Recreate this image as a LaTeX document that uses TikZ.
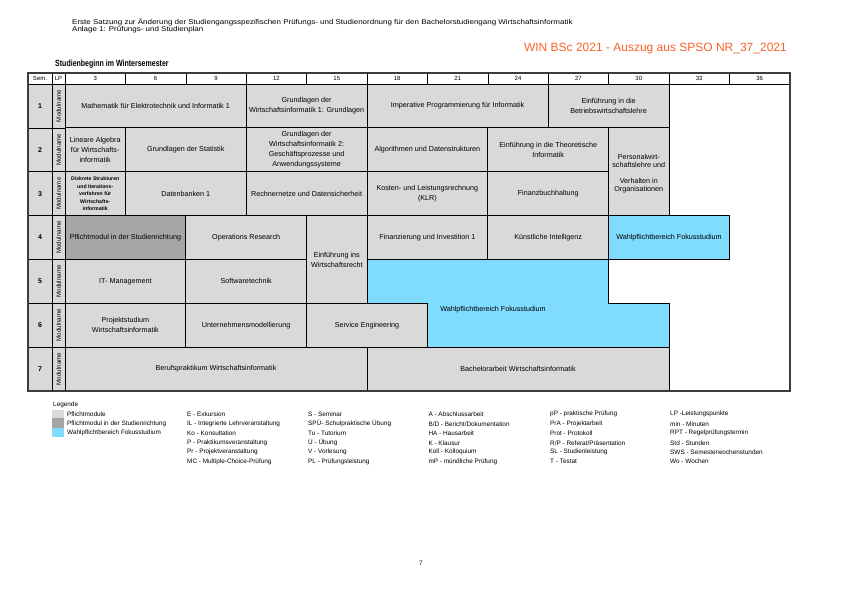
\documentclass[tikz,border=0pt]{standalone}
\usepackage{fontspec}
\setmainfont{Liberation Sans}
\definecolor{lgray}{RGB}{217,217,217}
\definecolor{dgray}{RGB}{166,166,166}
\definecolor{fblue}{RGB}{128,220,255}
\definecolor{ttlorange}{RGB}{250,100,40}
\definecolor{frame}{RGB}{60,60,60}
\tikzset{
  cell/.style={draw=black, line width=0.8pt},
  txt/.style={font=\fontsize{7.2}{10}\selectfont, align=center, inner sep=0pt},
  txtpers/.style={font=\fontsize{7.2}{8.3}\selectfont, yshift=-2pt},
  txtsmall/.style={font=\bfseries\fontsize{5.2}{7.5}\selectfont},
  hnum/.style={font=\fontsize{6}{7}\selectfont, inner sep=0pt},
  semnum/.style={font=\bfseries\fontsize{7}{8}\selectfont, inner sep=0pt},
  modn/.style={font=\fontsize{6.2}{7}\selectfont, inner sep=0pt, rotate=90},
  lgt/.style={font=\fontsize{6.4}{7}\selectfont, inner sep=0pt, anchor=west},
  sepline/.style={draw=black, line width=0.6pt},
  outer/.style={draw=frame, line width=1.2pt}
}
\newcommand\mkblock[8][]{%
  \draw[cell,fill=#7] ({65+60.4*#3},{84+43.86*#4}) rectangle ({65+60.4*#5},{84+43.86*#6});
  \node[txt,#1] (#2) at ({65+60.4*(#3+#5)/2},{84+43.86*(#4+#6)/2}) {#8};
}
\begin{document}
\begin{tikzpicture}[x=1pt,y=-1pt]
\useasboundingbox (0,0) rectangle (842,595);
\fill[white] (0,0) rectangle (842,595);

% page header
\node[anchor=base west, inner sep=0pt, font=\fontsize{7}{7}\selectfont] (hdr1) at (72,24.3)
  {\scalebox{1.14}[1]{Erste Satzung zur Änderung der Studiengangsspezifischen Prüfungs- und Studienordnung für den Bachelorstudiengang Wirtschaftsinformatik}};
\node[anchor=base west, inner sep=0pt, font=\fontsize{7}{7}\selectfont] (hdr2) at (72,31.6)
  {\scalebox{1.14}[1]{Anlage 1: Prüfungs- und Studienplan}};
\node[anchor=base east, inner sep=0pt, font=\fontsize{12}{14}\selectfont, text=ttlorange] (ttl) at (787,51)
  {WIN BSc 2021 - Auszug aus SPSO NR\_37\_2021};
\node[anchor=base west, inner sep=0pt, font=\bfseries\fontsize{9}{10}\selectfont] (sub) at (55,66.5)
  {\scalebox{0.78}[1]{Studienbeginn im Wintersemester}};

% left columns background
\fill[lgray] (28,84) rectangle (65,391);

% blocks
\mkblock{math}{0}{0}{3}{1}{lgray}{Mathematik für Elektrotechnik und Informatik 1}
\mkblock{gwi1}{3}{0}{5}{1}{lgray}{Grundlagen der\\Wirtschaftsinformatik 1: Grundlagen}
\mkblock{imp}{5}{0}{8}{1}{lgray}{Imperative Programmierung für Informatik}
\mkblock{bwl}{8}{0}{10}{1}{lgray}{Einführung in die\\Betriebswirtschaftslehre}

\mkblock{linalg}{0}{1}{1}{2}{lgray}{Lineare Algebra\\für Wirtschafts-\\informatik}
\mkblock{stat}{1}{1}{3}{2}{lgray}{Grundlagen der Statistik}
\mkblock{gwi2}{3}{1}{5}{2}{lgray}{Grundlagen der\\Wirtschaftsinformatik 2:\\Geschäftsprozesse und\\Anwendungssysteme}
\mkblock{algo}{5}{1}{7}{2}{lgray}{Algorithmen und Datenstrukturen}
\mkblock{thi}{7}{1}{9}{2}{lgray}{Einführung in die Theoretische\\Informatik}
\mkblock[txtpers]{pers}{9}{1}{10}{3}{lgray}{Personalwirt-\\schaftslehre und\\[7.7pt]Verhalten in\\Organisationen}

\mkblock[txtsmall]{diskr}{0}{2}{1}{3}{lgray}{Diskrete Strukturen\\und Iterations-\\verfahren für\\Wirtschafts-\\informatik}
\mkblock{db}{1}{2}{3}{3}{lgray}{Datenbanken 1}
\mkblock{rn}{3}{2}{5}{3}{lgray}{Rechnernetze und Datensicherheit}
\mkblock{klr}{5}{2}{7}{3}{lgray}{Kosten- und Leistungsrechnung\\(KLR)}
\mkblock{fibu}{7}{2}{9}{3}{lgray}{Finanzbuchhaltung}

\mkblock{pflicht}{0}{3}{2}{4}{dgray}{Pflichtmodul in der Studienrichtung}
\mkblock{opr}{2}{3}{4}{4}{lgray}{Operations Research}
\mkblock{recht}{4}{3}{5}{5}{lgray}{Einführung ins\\Wirtschaftsrecht}
\mkblock{fin}{5}{3}{7}{4}{lgray}{Finanzierung und Investition 1}
\mkblock{ki}{7}{3}{9}{4}{lgray}{Künstliche Intelligenz}
\mkblock{wpfa}{9}{3}{11}{4}{fblue}{Wahlpflichtbereich Fokusstudium}

\mkblock{itm}{0}{4}{2}{5}{lgray}{IT- Management}
\mkblock{swt}{2}{4}{4}{5}{lgray}{Softwaretechnik}

\mkblock{proj}{0}{5}{2}{6}{lgray}{Projektstudium\\Wirtschaftsinformatik}
\mkblock{um}{2}{5}{4}{6}{lgray}{Unternehmensmodellierung}
\mkblock{se}{4}{5}{6}{6}{lgray}{Service Engineering}

% large elective area
\draw[cell,fill=fblue] ({65+60.4*5},{84+43.86*4}) -- ({65+60.4*9},{84+43.86*4})
  -- ({65+60.4*9},{84+43.86*5}) -- ({65+60.4*10},{84+43.86*5})
  -- ({65+60.4*10},{84+43.86*6}) -- ({65+60.4*6},{84+43.86*6})
  -- ({65+60.4*6},{84+43.86*5}) -- ({65+60.4*5},{84+43.86*5}) -- cycle;
\node[txt] (wpfb) at (493,309.5) {Wahlpflichtbereich Fokusstudium};

\mkblock{bp}{0}{6}{5}{7}{lgray}{Berufspraktikum Wirtschaftsinformatik}
\mkblock{ba}{5}{6}{10}{7}{lgray}{Bachelorarbeit Wirtschaftsinformatik}

% header row
\node[hnum] (hsem) at (40,78.5) {Sem.};
\node[hnum] (hlp) at (58.5,78.5) {LP};
\foreach \n [count=\k] in {3,6,9,12,15,18,21,24,27,30,33,36}
  \node[hnum] (h\k) at ({65+60.4*(\k-0.5)},78.5) {\n};
\foreach \k in {1,...,11}
  \draw[sepline] ({65+60.4*\k},73) -- ({65+60.4*\k},84);
\draw[sepline] (28,84) -- (790,84);

% left columns
\draw[sepline] (52,73) -- (52,391);
\draw[sepline] (65,73) -- (65,391);
\foreach \r in {1,...,6}
  \draw[sepline] (28,{84+43.86*\r}) -- (65,{84+43.86*\r});
\foreach \r in {1,...,7} {
  \node[semnum] (sn\r) at (40,{84+43.86*(\r-0.5)}) {\r};
  \node[modn] (mn\r) at (58.6,{84+43.86*(\r-0.5)}) {Modulname};
}

% outer frame
\draw[outer] (28,73) rectangle (790,391);

% legend
\node[lgt] (leg) at (53,405) {Legende};
\fill[lgray] (52,410) rectangle (64,418.3);
\fill[dgray] (52,418.3) rectangle (64,427.8);
\fill[fblue] (52,427.8) rectangle (64,437.3);
\foreach \t [count=\k] in {Pflichtmodule, Pflichtmodul in der Studienrichtung, Wahlpflichtbereich Fokusstudium}
  \node[lgt] (la\k) at (67,{414.3+9.47*(\k-1)}) {\t};
\foreach \t [count=\k] in {E - Exkursion, IL - Integrierte Lehrveranstaltung, Ko - Konsultation, P - Praktikumsveranstaltung, Pr - Projektveranstaltung, MC - Multiple-Choice-Prüfung}
  \node[lgt] (lb\k) at (187,{414.3+9.47*(\k-1)}) {\t};
\foreach \t [count=\k] in {S - Seminar, SPÜ- Schulpraktische Übung, Tu - Tutorium, Ü - Übung, V - Vorlesung, PL - Prüfungsleistung}
  \node[lgt] (lc\k) at (308,{414.3+9.47*(\k-1)}) {\t};
\foreach \t [count=\k] in {A - Abschlussarbeit, B/D - Bericht/Dokumentation, HA - Hausarbeit, K - Klausur, Koll - Kolloquium, mP - mündliche Prüfung}
  \node[lgt] (ld\k) at (428.3,{414.3+9.47*(\k-1)}) {\t};
\foreach \t [count=\k] in {pP - praktische Prüfung, PrA - Projektarbeit, Prot - Protokoll, R/P - Referat/Präsentation, SL - Studienleistung, T - Testat}
  \node[lgt] (le\k) at (550,{414.3+9.47*(\k-1)}) {\t};
\foreach \t [count=\k] in {LP -Leistungspunkte, min - Minuten, RPT - Regelprüfungstermin, Std - Stunden, SWS - Semesterwochenstunden, Wo - Wochen}
  \node[lgt] (lf\k) at (670,{414.3+9.47*(\k-1)}) {\t};

% page number
\node[hnum, font=\fontsize{6.4}{7}\selectfont] (pg) at (421,563) {7};
\end{tikzpicture}
\end{document}
